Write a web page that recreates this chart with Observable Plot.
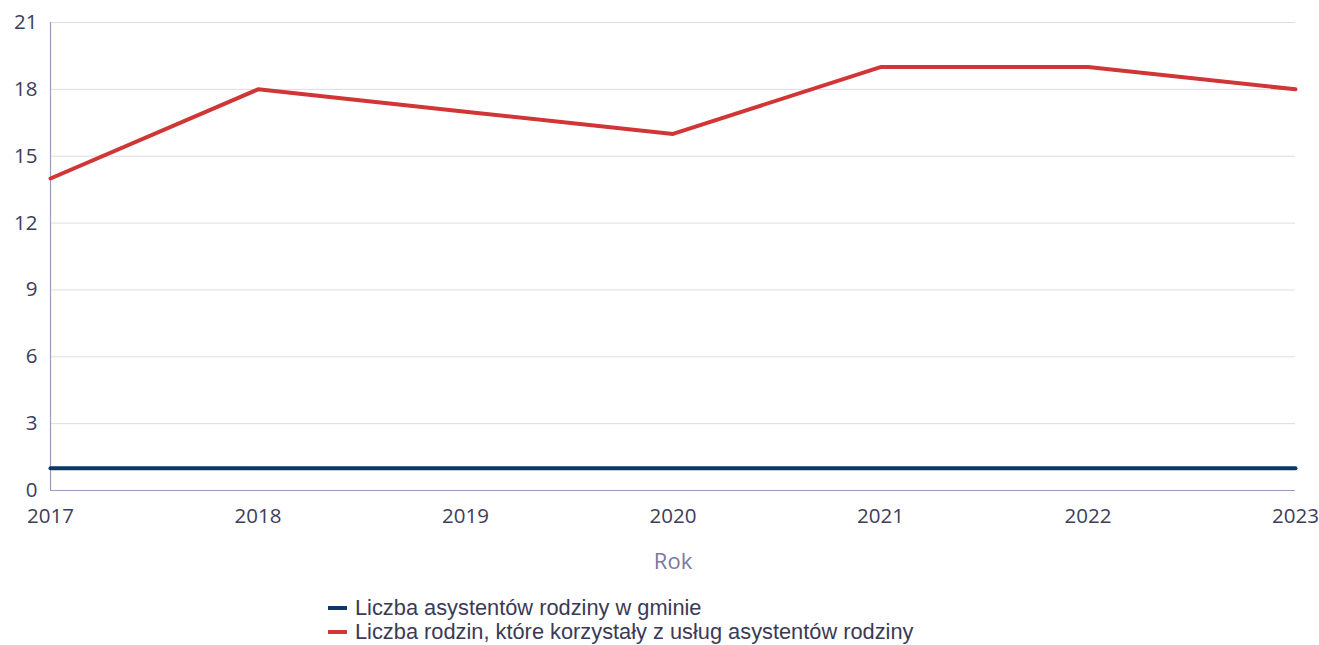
<!DOCTYPE html>
<html><head><meta charset="utf-8">
<script src="https://cdn.jsdelivr.net/npm/d3@7"></script>
<script src="https://cdn.jsdelivr.net/npm/@observablehq/plot@0.6"></script>
<style>
body{margin:0;background:#fff;}
#legend{padding-top:16px;margin-left:328px;font-family:"Liberation Sans",Arial,sans-serif;font-size:21.8px;color:#3a3a55;line-height:24px;}
.li{display:flex;align-items:center;height:24px;}
.sw{width:19px;height:4px;margin-right:8px;flex:none;}
</style>
</head><body>
<div id="chart"></div>
<div id="legend"></div>
<script>
const years = [2017, 2018, 2019, 2020, 2021, 2022, 2023];
const assistants = [1, 1, 1, 1, 1, 1, 1];
const families = [14, 18, 17, 16, 19, 19, 18];
const seriesNames = ["Liczba asystentów rodziny w gminie", "Liczba rodzin, które korzystały z usług asystentów rodziny"];
const seriesColors = ["#0d3768", "#d13636"];
const yTicks = [0, 3, 6, 9, 12, 15, 18, 21];

const data = [
  ...years.map((y, i) => ({year: y, value: assistants[i], s: seriesNames[0]})),
  ...years.map((y, i) => ({year: y, value: families[i], s: seriesNames[1]}))
];

const plot = Plot.plot({
  width: 1319,
  height: 580,
  marginTop: 22,
  marginBottom: 90,
  marginLeft: 50,
  marginRight: 24,
  style: {fontFamily: "'Open Sans', sans-serif", fontSize: "20.5px", color: "#3d3d5c"},
  x: {domain: [2017, 2023]},
  y: {domain: [0, 21]},
  color: {domain: seriesNames, range: seriesColors},
  marks: [
    Plot.gridY(yTicks, {stroke: "#dcdce8", strokeOpacity: 1, strokeWidth: 1}),
    Plot.ruleX([2017], {stroke: "#9a9cc0", strokeWidth: 1.2}),
    Plot.ruleY([0], {stroke: "#9a9cc0", strokeWidth: 1.2}),
    Plot.axisY(yTicks, {tickSize: 0, tickPadding: 13, label: null, fill: "#3d3d5c"}),
    Plot.axisX(years, {tickSize: 0, tickPadding: 18, tickFormat: "d", label: "Rok", labelAnchor: "center", labelArrow: "none", labelOffset: 78, fill: "#3d3d5c"}),
    Plot.line(data, {x: "year", y: "value", z: "s", stroke: "s", strokeWidth: 4, strokeLinejoin: "round"})
  ]
});
plot.querySelectorAll("g[aria-label='x-axis label'] text").forEach(t => {t.setAttribute("fill", "#7a7aa0"); t.style.fontSize = "22px";});
document.getElementById("chart").appendChild(plot);

const leg = document.getElementById("legend");
seriesNames.forEach((n, i) => {
  const d = document.createElement("div"); d.className = "li";
  const sw = document.createElement("span"); sw.className = "sw"; sw.style.background = seriesColors[i];
  const t = document.createElement("span"); t.textContent = n;
  d.appendChild(sw); d.appendChild(t); leg.appendChild(d);
});
</script>
</body></html>
